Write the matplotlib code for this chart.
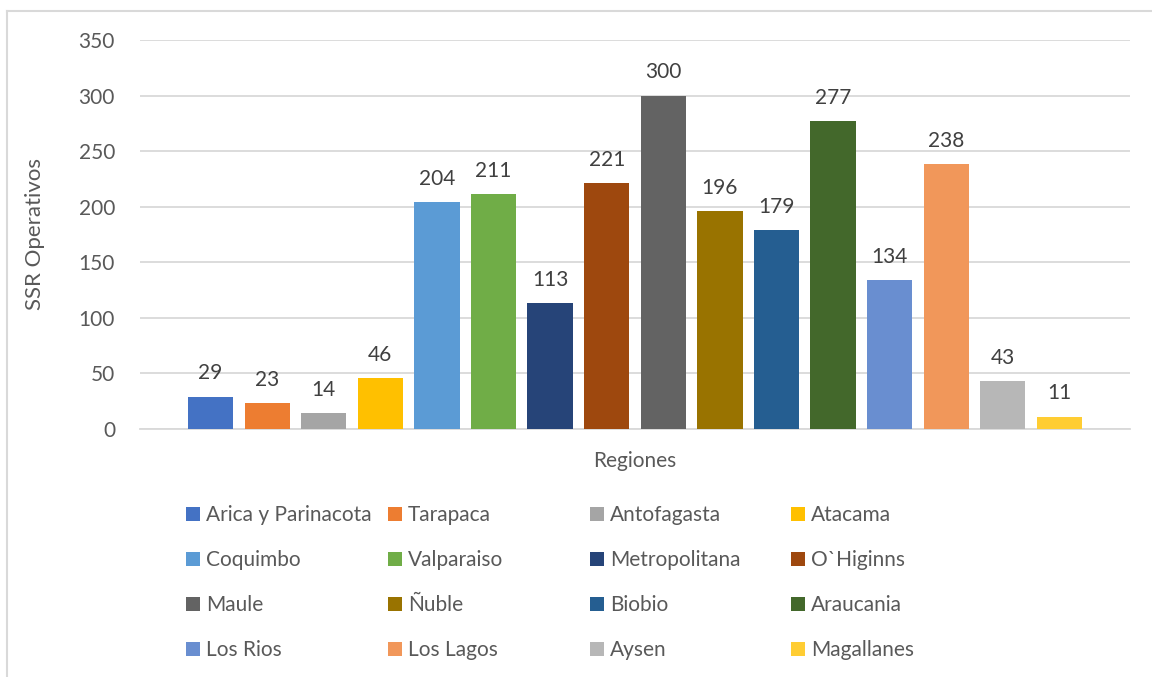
import matplotlib
matplotlib.use('Agg')
import matplotlib.pyplot as plt
from matplotlib.lines import Line2D

regions = ["Arica y Parinacota", "Tarapaca", "Antofagasta", "Atacama",
           "Coquimbo", "Valparaiso", "Metropolitana", "O`Higinns",
           "Maule", "Ñuble", "Biobio", "Araucania",
           "Los Rios", "Los Lagos", "Aysen", "Magallanes"]
ssr = [29, 23, 14, 46, 204, 211, 113, 221, 300, 196, 179, 277, 134, 238, 43, 11]
colors = ["#4472C4", "#ED7D31", "#A5A5A5", "#FFC000",
          "#5B9BD5", "#70AD47", "#264478", "#9E480E",
          "#636363", "#997300", "#255E91", "#43682B",
          "#698ED0", "#F1975A", "#B7B7B7", "#FFCD33"]
yticks = [0, 50, 100, 150, 200, 250, 300, 350]

plt.rcParams['font.family'] = ['Lato', 'DejaVu Sans']
txt = '#595959'
W, H = 1152, 677
fig = plt.figure(figsize=(W / 100, H / 100), dpi=100)
ax = fig.add_axes([140 / W, 1 - 429 / H, 990 / W, 389 / H])

bars = []
for i, (name, v, c) in enumerate(zip(regions, ssr, colors)):
    b = ax.bar(i, v, width=0.8, color=c, label=name, zorder=3)
    bars.append(b)
    ax.text(i, v + 12, str(v), ha='center', va='bottom', fontsize=15, color='#404040')

ax.set_xlim(-1.248, 15 + 1.248)
ax.set_ylim(0, 350)
ax.set_yticks(yticks)
ax.set_xticks([])
ax.grid(axis='y', color='#D9D9D9', linewidth=1.3, zorder=0)
for s in ['top', 'right', 'left']:
    ax.spines[s].set_visible(False)
ax.spines['bottom'].set_color('#D9D9D9')
ax.spines['bottom'].set_linewidth(1.3)
ax.tick_params(axis='y', length=0, labelsize=15, labelcolor=txt, pad=18)
ax.set_ylabel('SSR Operativos', fontsize=16, color=txt, labelpad=24)
ax.set_xlabel('Regiones', fontsize=15, color=txt, labelpad=16)

# legend: 4 columns, entries ordered row by row
col_x = [186, 388, 590, 791]
for c in range(4):
    hs = [bars[r * 4 + c] for r in range(4)]
    ls = [regions[r * 4 + c] for r in range(4)]
    fig.legend(hs, ls, loc='upper left', bbox_to_anchor=(col_x[c] / W, 1 - 505 / H),
               frameon=False, fontsize=15, labelcolor=txt, borderpad=0, borderaxespad=0,
               handlelength=0.67, handleheight=0.67, handletextpad=0.3, labelspacing=1.2)

# chart border (top and left visible)
fig.add_artist(Line2D([7 / W, 1], [1 - 11 / H, 1 - 11 / H], color='#D9D9D9', linewidth=1.5))
fig.add_artist(Line2D([7 / W, 7 / W], [0, 1 - 11 / H], color='#D9D9D9', linewidth=1.5))

fig.savefig('out.png', dpi=100)
